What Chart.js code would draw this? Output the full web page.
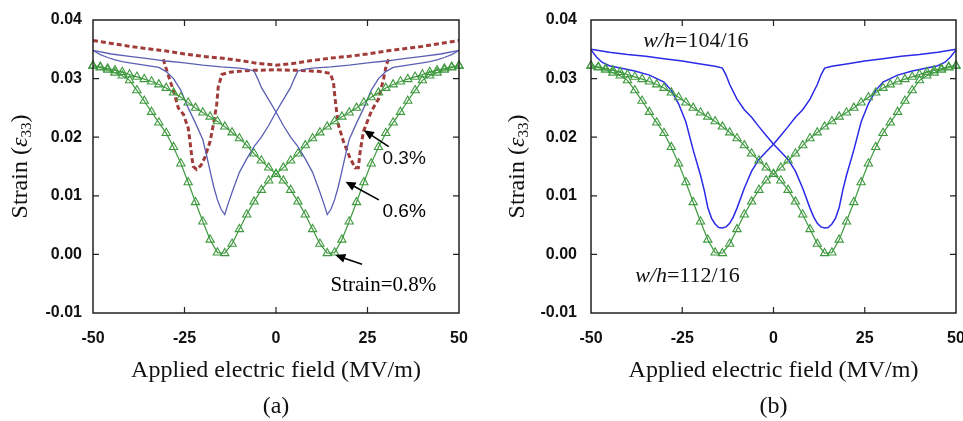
<!DOCTYPE html>
<html>
<head>
<meta charset="utf-8">
<script src="https://cdn.jsdelivr.net/npm/chart.js@4/dist/chart.umd.min.js"></script>
<style>
  body { margin: 0; background: #fff; }
  #wrap { position: relative; width: 963px; height: 421px; overflow: hidden; }
  canvas { position: absolute; top: 0; }
</style>
</head>
<body>
<div id="wrap">
  <canvas id="chartA" width="480" height="421" style="left:0"></canvas>
  <canvas id="chartB" width="483" height="421" style="left:480px"></canvas>
</div>
<script>
// Axis ticks
const xTicks = [-50, -25, 0, 25, 50];
const yTicks = [-0.01, 0, 0.01, 0.02, 0.03, 0.04];

// Strain = 0.8% (w/h = 112/16), triangles, field step 2 MV/m
const fieldGreen = [-50,-48,-46,-44,-42,-40,-38,-36,-34,-32,-30,-28,-26,-24,-22,-20,-18,-16,-14,-12,-10,-8,-6,-4,-2,0,
  2,4,6,8,10,12,14,16,18,20,22,24,26,28,30,32,34,36,38,40,42,44,46,48,50];
const greenDown = [0.0322,0.0319,0.0315,0.0310,0.0305,0.0297,0.0280,0.0262,0.0243,0.0225,0.0207,0.0183,0.0155,0.0123,0.0089,0.0056,0.0025,0.0003,0.0002,
  0.0018,0.0043,0.0068,0.0090,0.0110,0.0126,0.0137,
  0.0148,0.0160,0.0172,0.0186,0.0198,0.0208,0.0218,0.0227,0.0235,0.0242,0.0250,0.0259,0.0268,0.0276,0.0284,0.0290,0.0295,0.0299,0.0303,0.0307,0.0311,0.0314,0.0317,0.0320,0.0322];
const greenUp = [0.0322,0.0320,0.0317,0.0314,0.0311,0.0307,0.0303,0.0299,0.0295,0.0290,0.0284,0.0276,0.0268,0.0259,0.0250,0.0242,0.0235,0.0227,0.0218,0.0208,0.0198,0.0186,0.0172,0.0160,0.0148,0.0137,
  0.0126,0.0110,0.0090,0.0068,0.0043,0.0018,0.0002,0.0003,0.0025,0.0056,0.0089,0.0123,0.0155,0.0183,0.0207,0.0225,0.0243,0.0262,0.0280,0.0297,0.0305,0.0310,0.0315,0.0319,0.0322];

// Strain = 0.6% (panel a, thin blue)
const field06Down = [-50,-48,-46,-44,-42,-40,-36,-32,-30,-28,-26,-24,-22,-20,-19,-18,-17,-16,-15,-14,-13,-12,-10,-8,-6,-4,-2,0,2,4,5,6,8,10,15,20,25,30,35,40,45,50];
const strain06Down = [0.0348,0.0341,0.0336,0.0332,0.0329,0.0327,0.0323,0.0319,0.0312,0.0300,0.0280,0.0250,0.0224,0.0196,0.0170,0.0142,0.0115,0.0093,0.0077,0.0068,
  0.0088,0.0106,0.0140,0.0163,0.0184,0.0200,0.0220,0.0243,0.0264,0.0285,0.0300,0.0313,0.0316,0.0318,0.0320,0.0323,0.0327,0.0330,0.0334,0.0338,0.0342,0.0348];
const field06Up = [-50,-45,-40,-35,-30,-25,-20,-15,-10,-8,-6,-5,-4,-2,0,2,4,6,8,10,12,13,14,15,16,17,18,19,20,22,24,26,28,30,32,36,40,42,44,46,48,50];
const strain06Up = [0.0348,0.0342,0.0338,0.0334,0.0330,0.0327,0.0323,0.0320,0.0318,0.0316,0.0313,0.0300,0.0285,0.0264,0.0243,0.0220,0.0200,0.0184,0.0163,0.0140,
  0.0106,0.0088,0.0068,0.0077,0.0093,0.0115,0.0142,0.0170,0.0196,0.0224,0.0250,0.0280,0.0300,0.0312,0.0319,0.0323,0.0327,0.0329,0.0332,0.0336,0.0341,0.0348];

// Strain = 0.3% (panel a, dashed): outer envelope and inner loop
const field03Outer = [-50,-45,-40,-35,-30,-25,-20,-15,-10,-5,0,5,10,15,20,25,30,35,40,45,50];
const strain03Outer = [0.0365,0.0360,0.0355,0.0351,0.0347,0.0342,0.0338,0.0335,0.0331,0.0326,0.0323,0.0326,0.0331,0.0335,0.0338,0.0342,0.0347,0.0351,0.0355,0.0360,0.0365];
const field03Inner = [-30.8,-30.3,-29.4,-28,-26.7,-25.3,-24,-23.5,-23,-22.6,-21.7,-20.5,-19.4,-18,-17.1,-16.2,-15.8,-14.8,-12.6,-7,0,
  7,12,14.8,15.7,16.1,17,18.4,20.2,21.6,22.5,23,23.9,26.1,28,29.4,30.2,30.8];
const strain03Inner = [0.0333,0.0323,0.0305,0.0279,0.0250,0.0239,0.0216,0.0193,0.0166,0.0150,0.0145,0.0152,0.0166,0.0193,0.0222,0.0256,0.0285,0.0307,0.0311,0.0314,0.0315,
  0.0314,0.0312,0.0309,0.0294,0.0268,0.0222,0.0193,0.0165,0.0148,0.0148,0.0176,0.0210,0.0245,0.0265,0.0300,0.0325,0.0333];

// w/h = 104/16 (panel b, blue)
const field104Down = [-50,-45,-40,-35,-30,-25,-20,-16,-14,-13,-12,-10,-8,-6,-4,-2,0,2,4,6,8,10,11,12,13,14,15,16,17,18,19,20,22,24,26,28,30,34,38,42,45,47,48.5,50];
const strain104Down = [0.0350,0.0345,0.0341,0.0338,0.0334,0.0330,0.0325,0.0321,0.0318,0.0306,0.0290,0.0265,0.0247,0.0234,0.0218,0.0203,0.0188,0.0175,0.0162,0.0142,0.0113,0.0079,
  0.0064,0.0053,0.0047,0.0045,0.0046,0.0052,0.0062,0.0080,0.0110,0.0135,0.0178,0.0226,0.0257,0.0280,0.0294,0.0306,0.0313,0.0318,0.0322,0.0328,0.0337,0.0349];
const field104Up = [-50,-48.5,-47,-45,-42,-38,-34,-30,-28,-26,-24,-22,-20,-19,-18,-17,-16,-15,-14,-13,-12,-11,-10,-8,-6,-4,-2,0,2,4,6,8,10,12,13,14,16,20,25,30,35,40,45,50];
const strain104Up = [0.0349,0.0337,0.0328,0.0322,0.0318,0.0313,0.0306,0.0294,0.0280,0.0257,0.0226,0.0178,0.0135,0.0110,0.0080,0.0062,0.0052,0.0046,0.0045,0.0047,0.0053,0.0064,
  0.0079,0.0113,0.0142,0.0162,0.0175,0.0188,0.0203,0.0218,0.0234,0.0247,0.0265,0.0290,0.0306,0.0318,0.0321,0.0325,0.0330,0.0334,0.0338,0.0341,0.0345,0.0350];

const SANS = "'Liberation Sans', Arial, sans-serif";
const SERIF = "'Liberation Serif', 'Times New Roman', serif";

function pts(xs, ys) {
    return xs.map((x, i) => ({ x: x, y: ys[i] }));
}

function greenSet(ys) {
    return {
        data: pts(fieldGreen, ys),
        borderColor: '#3f9a3f',
        borderWidth: 1.2,
        pointStyle: 'triangle',
        pointRadius: 4.8,
        pointBorderWidth: 1.1,
        pointBorderColor: '#3f9a3f',
        pointBackgroundColor: 'rgba(255,255,255,0)',
        clip: false
    };
}

function lineSet(xs, ys, color, width, dash) {
    return {
        data: pts(xs, ys),
        borderColor: color,
        borderWidth: width,
        borderDash: dash || [],
        pointRadius: 0,
        clip: 4
    };
}

// draw a run of differently styled text pieces
function drawRuns(ctx, runs, x, y, align) {
    let total = 0;
    runs.forEach(r => { ctx.font = r.font; total += ctx.measureText(r.t).width; });
    let cx = align === 'center' ? x - total / 2 : x;
    ctx.textBaseline = 'middle';
    ctx.textAlign = 'left';
    runs.forEach(r => {
        ctx.font = r.font;
        ctx.fillText(r.t, cx, y + (r.dy || 0));
        cx += ctx.measureText(r.t).width;
    });
}

function arrow(ctx, x1, y1, x2, y2) {
    const a = Math.atan2(y2 - y1, x2 - x1);
    const L = 10, W = 4.5;
    ctx.strokeStyle = '#000';
    ctx.fillStyle = '#000';
    ctx.lineWidth = 1.6;
    ctx.beginPath();
    ctx.moveTo(x1, y1);
    ctx.lineTo(x2 - Math.cos(a) * L * 0.8, y2 - Math.sin(a) * L * 0.8);
    ctx.stroke();
    ctx.beginPath();
    ctx.moveTo(x2, y2);
    ctx.lineTo(x2 - Math.cos(a) * L + Math.sin(a) * W, y2 - Math.sin(a) * L - Math.cos(a) * W);
    ctx.lineTo(x2 - Math.cos(a) * L - Math.sin(a) * W, y2 - Math.sin(a) * L + Math.cos(a) * W);
    ctx.closePath();
    ctx.fill();
}

// frame, inward ticks, titles and notes
const decor = {
    id: 'decor',
    afterDatasetsDraw(chart, args, opts) {
        const ctx = chart.ctx;
        const a = chart.chartArea;
        const xs = chart.scales.x, ys = chart.scales.y;
        ctx.save();
        ctx.strokeStyle = '#222';
        ctx.lineWidth = 1.5;
        ctx.strokeRect(a.left, a.top, a.right - a.left, a.bottom - a.top);
        ctx.lineWidth = 1.2;
        ctx.beginPath();
        [-25, 0, 25].forEach(v => {
            const px = xs.getPixelForValue(v);
            ctx.moveTo(px, a.bottom); ctx.lineTo(px, a.bottom - 6);
            ctx.moveTo(px, a.top); ctx.lineTo(px, a.top + 6);
        });
        [0, 0.01, 0.02, 0.03].forEach(v => {
            const py = ys.getPixelForValue(v);
            ctx.moveTo(a.left, py); ctx.lineTo(a.left + 6, py);
            ctx.moveTo(a.right, py); ctx.lineTo(a.right - 6, py);
        });
        ctx.stroke();

        ctx.fillStyle = '#111';
        const midX = (a.left + a.right) / 2;
        drawRuns(ctx, [{ t: 'Applied electric field (MV/m)', font: '24px ' + SERIF }], midX, a.bottom + 58, 'center');
        drawRuns(ctx, [{ t: opts.letter, font: '24px ' + SERIF }], midX, a.bottom + 94, 'center');

        ctx.save();
        ctx.translate(a.left - opts.yTitleGap, (a.top + a.bottom) / 2);
        ctx.rotate(-Math.PI / 2);
        drawRuns(ctx, [
            { t: 'Strain (', font: '24px ' + SERIF },
            { t: 'ε', font: 'italic 24px ' + SERIF },
            { t: '33', font: '15px ' + SERIF, dy: 6 },
            { t: ')', font: '24px ' + SERIF }
        ], 0, 0, 'center');
        ctx.restore();

        opts.notes.forEach(n => {
            drawRuns(ctx, n.runs, xs.getPixelForValue(n.x), ys.getPixelForValue(n.y), 'left');
            if (n.arrow) {
                arrow(ctx, xs.getPixelForValue(n.arrow[0]), ys.getPixelForValue(n.arrow[1]),
                    xs.getPixelForValue(n.arrow[2]), ys.getPixelForValue(n.arrow[3]));
            }
        });
        ctx.restore();
    }
};

function makeOptions(pad, tickPad, decorOpts) {
    return {
        responsive: false,
        animation: false,
        devicePixelRatio: 1,
        layout: { padding: { left: 0, right: pad.right, top: 20, bottom: 0 } },
        plugins: { legend: { display: false }, tooltip: { enabled: false }, decor: decorOpts },
        scales: {
            x: {
                type: 'linear', min: -50, max: 50,
                afterBuildTicks: s => { s.ticks = xTicks.map(v => ({ value: v })); },
                afterFit: s => { s.height = 108; s.paddingLeft = 0; s.paddingRight = 0; },
                grid: { display: false, drawTicks: false },
                border: { display: false },
                ticks: { padding: 16, color: '#111', font: { family: SANS, size: 16, weight: 'bold' }, maxRotation: 0 }
            },
            y: {
                type: 'linear', min: -0.01, max: 0.04,
                afterBuildTicks: s => { s.ticks = yTicks.map(v => ({ value: v })); },
                afterFit: s => { s.width = pad.left; s.paddingTop = 0; s.paddingBottom = 0; },
                grid: { display: false, drawTicks: false },
                border: { display: false },
                ticks: {
                    padding: tickPad, color: '#111', font: { family: SANS, size: 16, weight: 'bold' },
                    callback: v => v.toFixed(2)
                }
            }
        }
    };
}

const red = '#a03c3a';
new Chart(document.getElementById('chartA'), {
    type: 'scatter',
    data: {
        datasets: [
            greenSet(greenDown),
            greenSet(greenUp),
            lineSet(field06Down, strain06Down, '#5a5fb2', 1.3),
            lineSet(field06Up, strain06Up, '#5a5fb2', 1.3),
            lineSet(field03Outer, strain03Outer, red, 3, [5, 3]),
            lineSet(field03Inner, strain03Inner, red, 3, [5, 3])
        ].map(d => Object.assign(d, { showLine: true, tension: 0 }))
    },
    options: makeOptions({ left: 93, right: 21 }, 11, {
        letter: '(a)',
        yTitleGap: 72,
        notes: [
            { runs: [{ t: '0.3%', font: '19px ' + SANS }], x: 29.1, y: 0.0164, arrow: [30.8, 0.0184, 24.0, 0.0212] },
            { runs: [{ t: '0.6%', font: '19px ' + SANS }], x: 29.1, y: 0.0072, arrow: [28.1, 0.0093, 19.0, 0.0124] },
            { runs: [{ t: 'Strain=0.8%', font: '21px ' + SERIF }], x: 14.9, y: -0.0053, arrow: [23.5, -0.0017, 16.2, -0.0001] }
        ]
    }),
    plugins: [decor]
});

new Chart(document.getElementById('chartB'), {
    type: 'scatter',
    data: {
        datasets: [
            greenSet(greenDown),
            greenSet(greenUp),
            lineSet(field104Down, strain104Down, '#2a2ae8', 1.5),
            lineSet(field104Up, strain104Up, '#2a2ae8', 1.5)
        ].map(d => Object.assign(d, { showLine: true, tension: 0 }))
    },
    options: makeOptions({ left: 111, right: 7 }, 14, {
        letter: '(b)',
        yTitleGap: 73,
        notes: [
            { runs: [{ t: 'w/h', font: 'italic 22px ' + SERIF }, { t: '=104/16', font: '22px ' + SERIF }], x: -35.7, y: 0.0364 },
            { runs: [{ t: 'w/h', font: 'italic 22px ' + SERIF }, { t: '=112/16', font: '22px ' + SERIF }], x: -37.9, y: -0.0037 }
        ]
    }),
    plugins: [decor]
});
</script>
</body>
</html>
